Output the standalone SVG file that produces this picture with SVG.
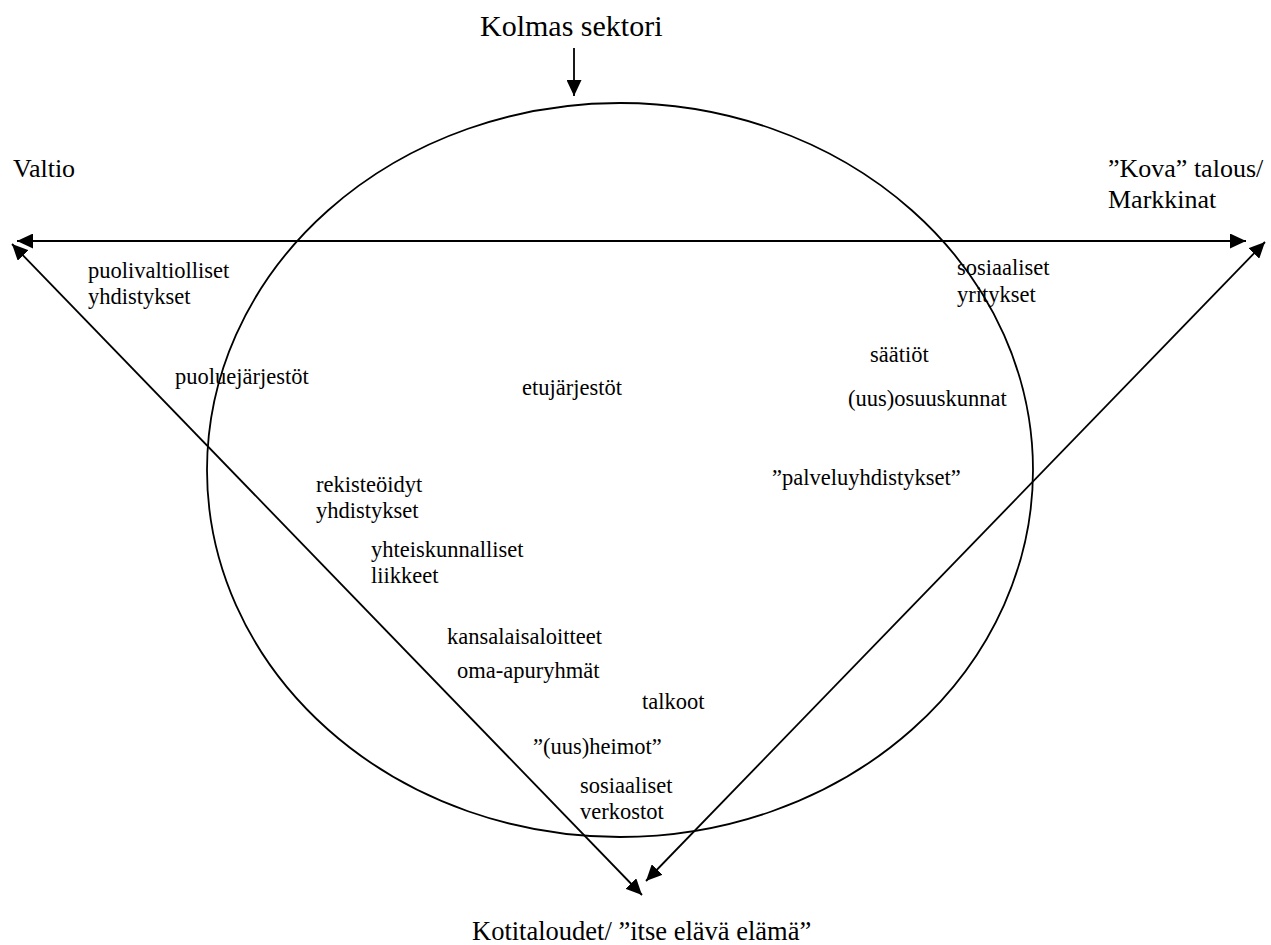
<svg xmlns="http://www.w3.org/2000/svg" width="1271" height="945" viewBox="0 0 1271 945">
<style>
.ln{stroke:#000;stroke-width:1.8;fill:none}
</style>
<defs>
<marker id="ah" markerUnits="userSpaceOnUse" markerWidth="17" markerHeight="15" refX="16" refY="7.5" orient="auto-start-reverse" viewBox="0 0 17 15">
<path d="M0,0 L16,7.5 L0,15 z" fill="#000"/>
</marker>
</defs>
<rect width="1271" height="945" fill="#fff"/>
<g id="sector-circle">
<ellipse cx="620" cy="470" rx="413" ry="367" class="ln" stroke-width="2"/>
</g>
<g id="connectors">
<line x1="17" y1="241" x2="1246" y2="241" class="ln" marker-start="url(#ah)" marker-end="url(#ah)"/>
<line x1="12" y1="244" x2="642" y2="895" class="ln" stroke-width="1.6" marker-start="url(#ah)" marker-end="url(#ah)"/>
<line x1="1265" y1="242" x2="646" y2="881" class="ln" stroke-width="1.6" marker-start="url(#ah)" marker-end="url(#ah)"/>
<line x1="574" y1="48" x2="574" y2="96" class="ln" marker-end="url(#ah)"/>
</g>
<g id="kolmas"><text font-family="Liberation Serif, serif" font-size="30" x="480" y="36">Kolmas sektori</text></g>
<g id="valtio"><text font-family="Liberation Serif, serif" font-size="26" x="13" y="177">Valtio</text></g>
<g id="markkinat">
<text font-family="Liberation Serif, serif" font-size="26" x="1108" y="177">”Kova” talous/</text>
<text font-family="Liberation Serif, serif" font-size="26" x="1108" y="208">Markkinat</text>
</g>
<g id="kotitaloudet"><text font-family="Liberation Serif, serif" font-size="26.5" x="472" y="940">Kotitaloudet/ ”itse elävä elämä”</text></g>
<g id="puolivaltiolliset">
<text font-family="Liberation Serif, serif" font-size="22.5" x="88" y="278">puolivaltiolliset</text>
<text font-family="Liberation Serif, serif" font-size="22.5" x="88" y="304">yhdistykset</text>
</g>
<g id="puoluejarjestot"><text font-family="Liberation Serif, serif" font-size="22.5" x="175" y="384">puoluejärjestöt</text></g>
<g id="etujarjestot"><text font-family="Liberation Serif, serif" font-size="22.5" x="522" y="395">etujärjestöt</text></g>
<g id="rekisteroidyt">
<text font-family="Liberation Serif, serif" font-size="22.5" x="316" y="492">rekisteöidyt</text>
<text font-family="Liberation Serif, serif" font-size="22.5" x="316" y="518">yhdistykset</text>
</g>
<g id="liikkeet">
<text font-family="Liberation Serif, serif" font-size="22.5" x="371" y="557">yhteiskunnalliset</text>
<text font-family="Liberation Serif, serif" font-size="22.5" x="371" y="583">liikkeet</text>
</g>
<g id="kansalaisaloitteet"><text font-family="Liberation Serif, serif" font-size="22.5" x="447" y="644">kansalaisaloitteet</text></g>
<g id="oma-apuryhmat"><text font-family="Liberation Serif, serif" font-size="22.5" x="457" y="678">oma-apuryhmät</text></g>
<g id="talkoot"><text font-family="Liberation Serif, serif" font-size="22.5" x="642" y="709">talkoot</text></g>
<g id="heimot"><text font-family="Liberation Serif, serif" font-size="22.5" x="533" y="754">”(uus)heimot”</text></g>
<g id="verkostot">
<text font-family="Liberation Serif, serif" font-size="22.5" x="580" y="793">sosiaaliset</text>
<text font-family="Liberation Serif, serif" font-size="22.5" x="580" y="819">verkostot</text>
</g>
<g id="yritykset">
<text font-family="Liberation Serif, serif" font-size="22.5" x="957" y="275">sosiaaliset</text>
<text font-family="Liberation Serif, serif" font-size="22.5" x="957" y="302">yritykset</text>
</g>
<g id="saatiot"><text font-family="Liberation Serif, serif" font-size="22.5" x="870" y="362">säätiöt</text></g>
<g id="osuuskunnat"><text font-family="Liberation Serif, serif" font-size="22.5" x="848" y="406">(uus)osuuskunnat</text></g>
<g id="palveluyhdistykset"><text font-family="Liberation Serif, serif" font-size="22.5" x="772" y="485">”palveluyhdistykset”</text></g>
</svg>
